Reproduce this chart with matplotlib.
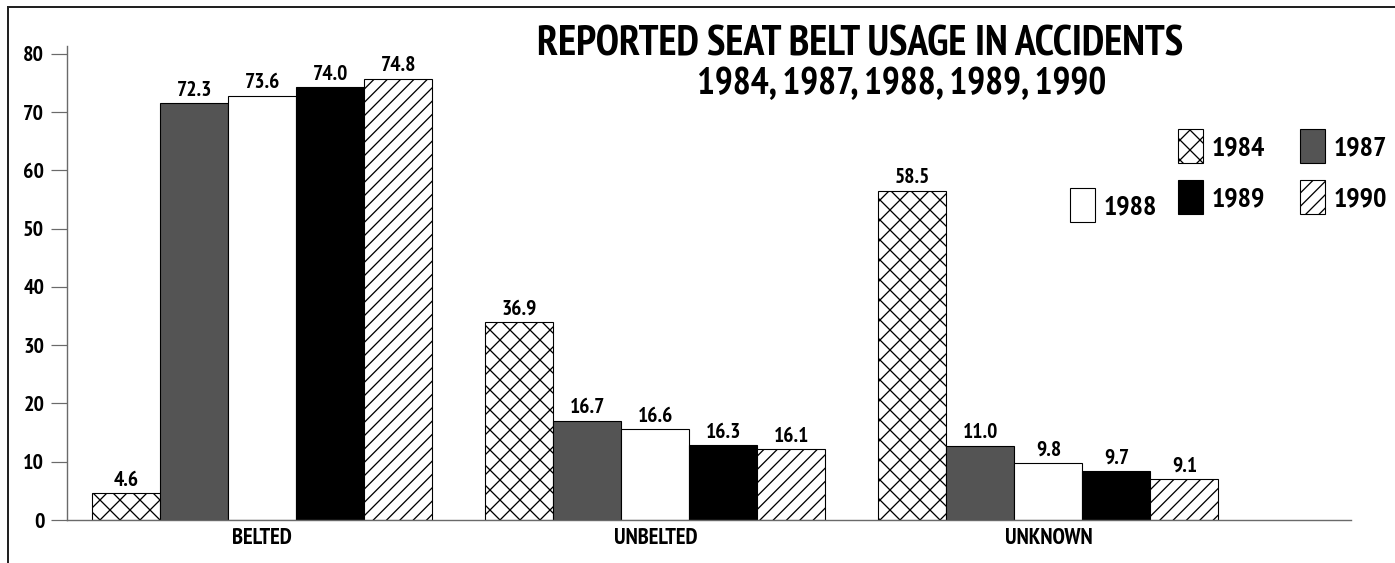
import os
import numpy as np
import matplotlib
matplotlib.use("Agg")
import matplotlib.pyplot as plt
import matplotlib.font_manager as fm
from matplotlib.patches import Patch, Rectangle

# ---- data ---------------------------------------------------------------
categories = ["BELTED", "UNBELTED", "UNKNOWN"]
years = ["1984", "1987", "1988", "1989", "1990"]

# bar heights as drawn in the chart
drawn_1984 = [4.6, 34.0, 56.5]
drawn_1987 = [71.5, 17.0, 12.7]
drawn_1988 = [72.8, 15.6, 9.8]
drawn_1989 = [74.3, 12.8, 8.4]
drawn_1990 = [75.7, 12.1, 7.0]

# values printed above the bars
printed_1984 = ["4.6", "36.9", "58.5"]
printed_1987 = ["72.3", "16.7", "11.0"]
printed_1988 = ["73.6", "16.6", "9.8"]
printed_1989 = ["74.0", "16.3", "9.7"]
printed_1990 = ["74.8", "16.1", "9.1"]

yticks = [0, 10, 20, 30, 40, 50, 60, 70, 80]

drawn = [drawn_1984, drawn_1987, drawn_1988, drawn_1989, drawn_1990]
printed = [printed_1984, printed_1987, printed_1988, printed_1989, printed_1990]

# ---- style --------------------------------------------------------------
W, H, DPI = 1395, 563, 120


def pt(px):
    return px * 72.0 / DPI


# look for a bold condensed sans face, the chart uses a condensed gothic
def pick_font_file():
    best = None
    for f in fm.fontManager.ttflist:
        fn = os.path.basename(f.fname).lower().replace('_', '').replace('-', '')
        if 'bold' not in fn or 'italic' in fn or 'oblique' in fn:
            continue
        if any(k in fn for k in ['semibold', 'extrabold', 'mono', 'serif', 'cjk', 'ultrabold']):
            continue
        if 'narrow' in fn:
            rank = 0
        elif 'semicondensed' in fn:
            rank = 2
        elif 'extracondensed' in fn or 'ultracondensed' in fn:
            rank = 3
        elif 'condensed' in fn:
            rank = 1
        else:
            continue
        if best is None or rank < best[0]:
            best = (rank, f.fname)
    return best[1] if best else None


font_file = pick_font_file()


def font(px):
    if font_file:
        fp = fm.FontProperties(fname=font_file)
    else:
        fp = fm.FontProperties(family=['Liberation Sans', 'DejaVu Sans'], weight='bold')
    fp.set_size(pt(px))
    return fp


plt.rcParams['hatch.linewidth'] = pt(1.3)

faces = ['white', '#545454', 'white', 'black', 'white']
hatches = ['xx', None, None, None, '///']

fig = plt.figure(figsize=(W / DPI, H / DPI), dpi=DPI)
ax = fig.add_axes([67.3 / W, 1 - 520 / H, (1350.7 - 67.3) / W, (520 - 45.7) / H])

x = np.arange(len(categories))
width = 0.173

for i in range(len(years)):
    bars = ax.bar(x + (i - 2) * width, drawn[i], width, color=faces[i],
                  edgecolor='black', linewidth=pt(1.1), hatch=hatches[i])
    labels = ax.bar_label(bars, labels=printed[i], padding=pt(3.5))
    for t in labels:
        t.set_fontproperties(font(21.5))

ax.set_xlim(-0.496, 2.769)
ax.set_ylim(0, 81.4)
ax.set_yticks(yticks)
ax.set_xticks(x)
ax.set_xticklabels(categories)

for s in ['top', 'right']:
    ax.spines[s].set_visible(False)
for s in ['left', 'bottom']:
    ax.spines[s].set_color('#6a6a6a')
    ax.spines[s].set_linewidth(pt(1.4))

ax.tick_params(axis='y', length=pt(16), width=pt(1.2), color='#6a6a6a', pad=pt(7))
ax.tick_params(axis='x', length=0, pad=pt(8))
for t in ax.get_yticklabels():
    t.set_fontproperties(font(22))
for t in ax.get_xticklabels():
    t.set_fontproperties(font(22.5))

# title, sized to the width it has in the chart
t1 = fig.text(860 / W, 1 - 55 / H, "REPORTED SEAT BELT USAGE IN ACCIDENTS",
              ha='center', va='baseline', fontproperties=font(34))
t2 = fig.text(902 / W, 1 - 94 / H, "1984, 1987, 1988, 1989, 1990",
              ha='center', va='baseline', fontproperties=font(34))
fig.canvas.draw()
r = fig.canvas.get_renderer()
for t, target in [(t1, 646.0), (t2, 411.0)]:
    w = t.get_window_extent(r).width
    t.set_fontsize(min(pt(34) * target / w, pt(44)))

# legend: three single column blocks placed like the original
fs = 28.0
hh = (34.0 / fs - 0.245) / 0.65
desc = 0.35 * fs * (hh - 0.7)
leg_kw = dict(frameon=False, prop=font(fs), handlelength=25.0 / fs, handleheight=hh,
              handletextpad=9.0 / fs, labelspacing=(59 - fs * hh) / fs,
              borderpad=0, borderaxespad=0, loc='upper left',
              bbox_transform=fig.transFigure)


def handle(i):
    return Patch(facecolor=faces[i], edgecolor='black', hatch=hatches[i],
                 linewidth=pt(1.1), label=years[i])


top1 = 1 - (137 - desc) / H
top2 = 1 - (196 - desc) / H
legA = fig.legend([handle(0), handle(3)], [years[0], years[3]],
                  bbox_to_anchor=(1178 / W, top1), **leg_kw)
legB = fig.legend([handle(1), handle(4)], [years[1], years[4]],
                  bbox_to_anchor=(1300 / W, top1), **leg_kw)
legC = fig.legend([handle(2)], [years[2]],
                  bbox_to_anchor=(1070 / W, top2), **leg_kw)

# outer frame
fig.add_artist(Rectangle((8 / W, -0.1), 1.2, 1.1 - 7 / H, transform=fig.transFigure,
                         fill=False, edgecolor='#222222', linewidth=pt(2)))

fig.savefig("out.png", dpi=DPI)
